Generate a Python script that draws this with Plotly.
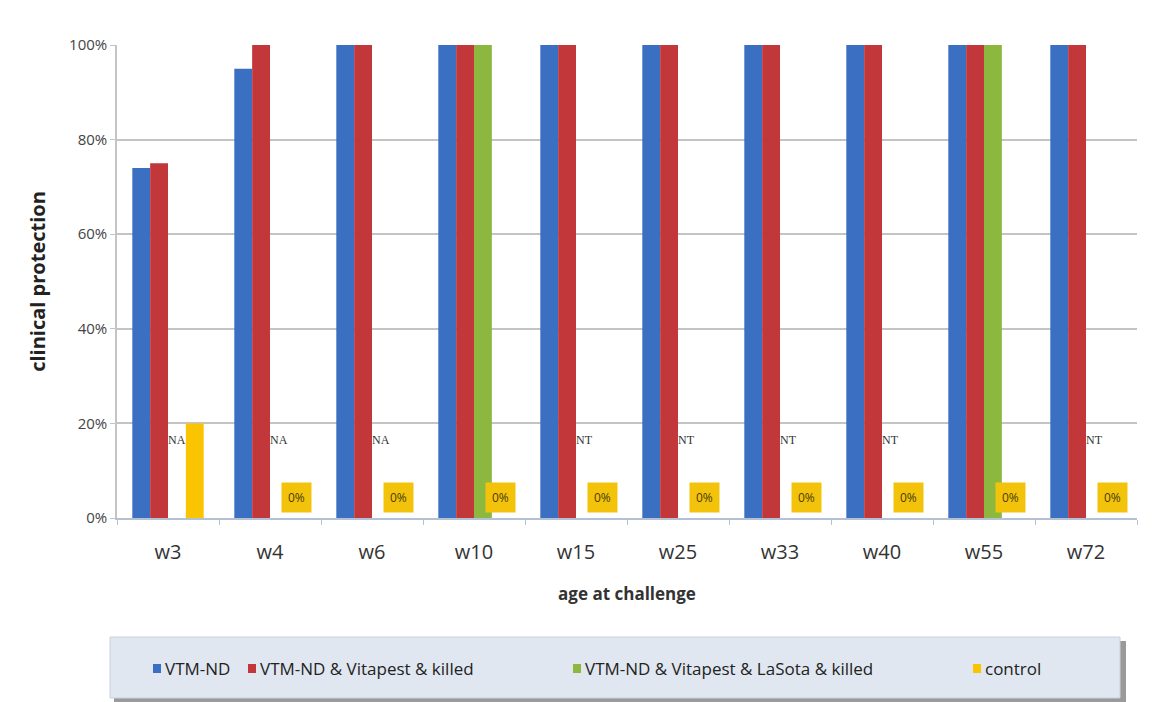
import plotly.graph_objects as go

# Clinical protection by age at challenge
weeks = ["w3", "w4", "w6", "w10", "w15", "w25", "w33", "w40", "w55", "w72"]
vtm_nd = [74, 95, 100, 100, 100, 100, 100, 100, 100, 100]
vtm_vit_killed = [75, 100, 100, 100, 100, 100, 100, 100, 100, 100]
vtm_vit_lasota_killed = [None, None, None, 100, None, None, None, None, 100, None]
lasota_notes = ["NA", "NA", "NA", "", "NT", "NT", "NT", "NT", "", "NT"]
control = [20, 0, 0, 0, 0, 0, 0, 0, 0, 0]
y_ticks = [0, 20, 40, 60, 80, 100]

series_names = ["VTM-ND", "VTM-ND & Vitapest & killed",
                "VTM-ND & Vitapest & LaSota & killed", "control"]
series_values = [vtm_nd, vtm_vit_killed, vtm_vit_lasota_killed, control]
series_colors = ["#3b6fc2", "#c2373a", "#8cb840", "#fbc400"]

BARGAP = 0.3
slot = (1 - BARGAP) / 4

fig = go.Figure()
for name, vals, color in zip(series_names, series_values, series_colors):
    fig.add_trace(go.Bar(
        x=weeks, y=vals, name=name, showlegend=False,
        marker=dict(color=color, line=dict(width=0)),
    ))

annotations = []
for i, note in enumerate(lasota_notes):
    if note:
        annotations.append(dict(
            x=i + 0.5 * slot, y=16.5, xref="x", yref="y", text=note,
            showarrow=False, font=dict(family="Liberation Serif", size=12, color="#333333"),
        ))
for i, v in enumerate(control):
    if v == 0:
        annotations.append(dict(
            x=i + 1.5 * slot, y=4.4, xref="x", yref="y", text=f"{v}%",
            showarrow=False, bgcolor="#f3c30c", borderpad=6,
            font=dict(family="Open Sans", size=12, color="#4a3c08"),
        ))

# pixel helpers for the legend panel below the plot area
px_w, px_h = 1020, 473
def px_x(p):
    return (p - 117) / px_w
def px_y(p):
    return (518 - p) / px_h

shapes = [
    dict(type="rect", xref="paper", yref="paper",
         x0=px_x(114), x1=px_x(1126), y0=px_y(703), y1=px_y(641),
         fillcolor="#9a9a9a", line=dict(width=0), layer="below"),
    dict(type="rect", xref="paper", yref="paper",
         x0=px_x(110), x1=px_x(1120), y0=px_y(698), y1=px_y(637),
         fillcolor="#e0e7f0", line=dict(color="#c9d2de", width=1), layer="below"),
]

# legend entries: small swatch followed by the series name
legend_text_x = [163, 258, 583, 983]
legend_y = 668
for name, color, tx in zip(series_names, series_colors, legend_text_x):
    shapes.append(dict(
        type="rect", xref="paper", yref="paper",
        x0=px_x(tx - 10), x1=px_x(tx - 2), y0=px_y(legend_y + 5), y1=px_y(legend_y - 4),
        fillcolor=color, line=dict(width=0),
    ))
    annotations.append(dict(
        x=px_x(tx), y=px_y(legend_y), xref="paper", yref="paper",
        xanchor="left", yanchor="middle", text=name, showarrow=False,
        font=dict(family="Open Sans", size=17, color="#222222"),
    ))

fig.update_layout(
    width=1156, height=702,
    margin=dict(l=117, r=19, t=45, b=184),
    paper_bgcolor="white", plot_bgcolor="white",
    barmode="group", bargap=BARGAP, bargroupgap=0,
    showlegend=False,
    font=dict(family="Open Sans", color="#333333"),
    xaxis=dict(
        type="category", showgrid=False,
        showline=True, linecolor="#b4c0d4", linewidth=1.5,
        ticks="outside", tickcolor="#b4c0d4", ticklen=5, tickson="boundaries",
        ticklabelstandoff=15,
        tickfont=dict(family="Open Sans", size=20, color="#333333"),
        title=dict(text="<b>age at challenge</b>", standoff=24,
                   font=dict(family="Open Sans", size=17, color="#333333")),
    ),
    yaxis=dict(
        range=[0, 100], tickvals=y_ticks, ticktext=[f"{t}%" for t in y_ticks],
        showgrid=True, gridcolor="#c4c4c4", gridwidth=2,
        showline=True, linecolor="#c4c4c4", linewidth=1.5,
        ticks="outside", tickcolor="#c4c4c4", ticklen=5,
        tickfont=dict(family="Open Sans", size=15, color="#444444"),
        title=dict(text="<b>clinical protection</b>", standoff=18,
                   font=dict(family="Open Sans", size=20, color="#222222")),
        zeroline=False,
    ),
    annotations=annotations,
    shapes=shapes,
)

fig.write_html("out.html")
